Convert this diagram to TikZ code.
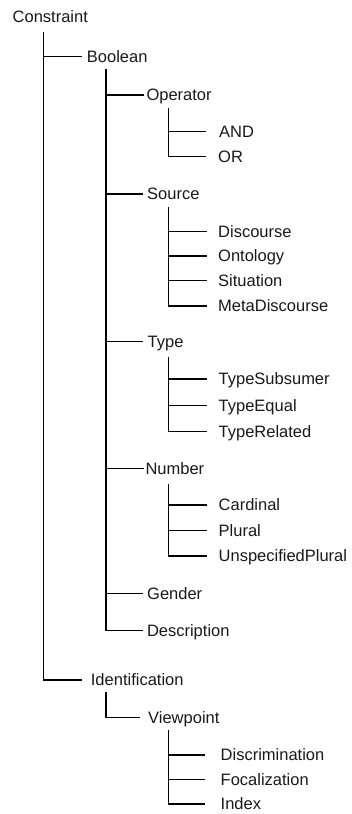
\documentclass[tikz,border=0pt]{standalone}
\usepackage{fontspec}
\setmainfont{Liberation Sans}
\begin{document}
\begin{tikzpicture}[x=1pt,y=-1pt,
  lbl/.style={anchor=west, inner ysep=0pt, inner xsep=#1, text height=11.8pt, text depth=0pt,
    font=\fontsize{16.5}{18}\selectfont, text=black!90},
  lbl/.default=0pt,
  conn/.style={line width=1.2pt, black}]
\useasboundingbox (0,0) rectangle (351,814);
% level 0
\node[lbl=0pt] (constraint) at (12.5,17) {Constraint};
\coordinate (t0) at (43.7,31.7);
% level 1
\node[lbl=5pt] (boolean) at (81.7,56.7) {Boolean};
\node[lbl=9pt] (ident) at (81.7,680) {Identification};
% level 2 under Boolean
\coordinate (t1) at (106,69.3);
\node[lbl=2pt] (operator) at (144.3,95) {Operator};
\node[lbl=4pt] (source) at (143,194) {Source};
\node[lbl=4.5pt] (type) at (143,341.7) {Type};
\node[lbl=1pt] (number) at (144.3,468.7) {Number};
\node[lbl=3.7pt] (gender) at (143.3,593.3) {Gender};
\node[lbl=3.5pt] (description) at (143.3,630.7) {Description};
% level 2 under Identification
\coordinate (t2) at (106,691.7);
\node[lbl=8pt] (viewpoint) at (140,717.7) {Viewpoint};
% level 3
\coordinate (t3) at (168.5,107.5);
\node[lbl=13pt] (and) at (206,131.7) {AND};
\node[lbl=12pt] (or) at (206,156.7) {OR};
\coordinate (t4) at (168.5,206.7);
\node[lbl=11.5pt] (discourse) at (206.5,231.7) {Discourse};
\node[lbl=11.5pt] (ontology) at (206.5,256) {Ontology};
\node[lbl=11.5pt] (situation) at (206.5,280.5) {Situation};
\node[lbl=11.5pt] (meta) at (206.5,306) {MetaDiscourse};
\coordinate (t5) at (168.5,356.7);
\node[lbl=12pt] (tsub) at (206.5,379) {TypeSubsumer};
\node[lbl=12pt] (teq) at (206.5,405.5) {TypeEqual};
\node[lbl=12pt] (trel) at (206.5,431.7) {TypeRelated};
\coordinate (t6) at (168.5,484);
\node[lbl=12pt] (card) at (206.5,505) {Cardinal};
\node[lbl=12pt] (plural) at (206.5,530.7) {Plural};
\node[lbl=12pt] (unspec) at (206.5,556) {UnspecifiedPlural};
\coordinate (t7) at (168.5,730);
\node[lbl=15.5pt] (discr) at (205,755) {Discrimination};
\node[lbl=15.5pt] (focal) at (205,779.3) {Focalization};
\node[lbl=15.5pt] (index) at (205,804) {Index};
% connectors
\draw[conn] (t0) |- (ident.west);
\draw[conn] (t0 |- boolean.west) -- (boolean.west);
\draw[conn] (t1) |- (description.west);
\foreach \n in {operator,source,type,number,gender}
  \draw[conn] (t1 |- \n.west) -- (\n.west);
\draw[conn] (t2) |- (viewpoint.west);
\draw[conn] (t3) |- (or.west);
\draw[conn] (t3 |- and.west) -- (and.west);
\draw[conn] (t4) |- (meta.west);
\foreach \n in {discourse,ontology,situation}
  \draw[conn] (t4 |- \n.west) -- (\n.west);
\draw[conn] (t5) |- (trel.west);
\foreach \n in {tsub,teq}
  \draw[conn] (t5 |- \n.west) -- (\n.west);
\draw[conn] (t6) |- (unspec.west);
\foreach \n in {card,plural}
  \draw[conn] (t6 |- \n.west) -- (\n.west);
\draw[conn] (t7) |- (index.west);
\foreach \n in {discr,focal}
  \draw[conn] (t7 |- \n.west) -- (\n.west);
\end{tikzpicture}
\end{document}
